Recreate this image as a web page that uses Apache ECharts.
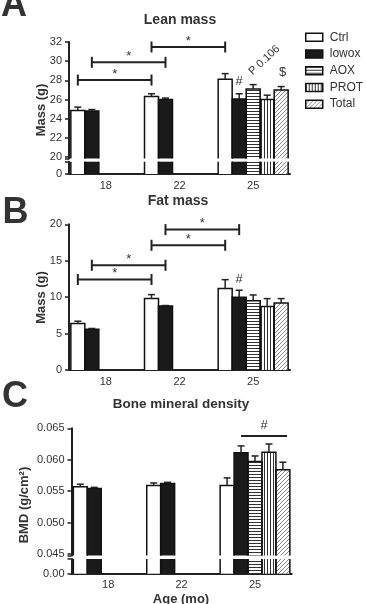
<!DOCTYPE html>
<html>
<head>
<meta charset="utf-8">
<script src="https://cdn.jsdelivr.net/npm/echarts@6/dist/echarts.min.js"></script>
<style>
  html, body { margin: 0; padding: 0; background: #fff; }
  #chart { width: 366px; height: 604px; }
</style>
</head>
<body>
<div id="chart"></div>
<script>
const ages = ['18', '22', '25'];
const groups = ['Ctrl', 'lowox', 'AOX', 'PROT', 'Total'];

// rows follow groups, columns follow ages (mean and SEM)
const leanMean = [
  [24.85, 26.3, 28.1],
  [24.8, 26.0, 26.05],
  [null, null, 27.1],
  [null, null, 26.0],
  [null, null, 27.0]
];
const leanErr = [
  [0.35, 0.3, 0.6],
  [0.15, 0.15, 0.55],
  [null, null, 0.45],
  [null, null, 0.45],
  [null, null, 0.35]
];
const fatMean = [
  [6.4, 9.8, 11.2],
  [5.6, 8.8, 10.0],
  [null, null, 9.5],
  [null, null, 8.7],
  [null, null, 9.2]
];
const fatErr = [
  [0.3, 0.55, 1.2],
  [0.1, 0.05, 0.95],
  [null, null, 0.8],
  [null, null, 1.1],
  [null, null, 0.6]
];
const bmdMean = [
  [0.0557, 0.0559, 0.0559],
  [0.0554, 0.0562, 0.0611],
  [null, null, 0.0597],
  [null, null, 0.0612],
  [null, null, 0.0584]
];
const bmdErr = [
  [0.0004, 0.0004, 0.0012],
  [0.0002, 0.0002, 0.0011],
  [null, null, 0.0009],
  [null, null, 0.0013],
  [null, null, 0.0012]
];

// tick labels
const leanTicks = [20, 22, 24, 26, 28, 30, 32];
const fatTicks = [0, 5, 10, 15, 20];
const bmdTicks = [0.045, 0.05, 0.055, 0.06, 0.065];

// significance brackets: [age1, group1, age2, group2, height]
const leanBrackets = [[0, 0, 1, 0, 28.03], [0, 1, 1, 1, 29.88], [1, 0, 2, 0, 31.48]];
const fatBrackets = [[0, 0, 1, 0, 12.42], [0, 1, 1, 1, 14.38], [1, 0, 2, 0, 17.12], [1, 1, 2, 1, 19.27]];
const bmdBrackets = [[2, 1, 2, 4.3, 0.06378]];

// text notes: [age, group, height]
const leanNotes = [[2, 1, 27.86], [2, 2.8, 30.1], [2, 4.1, 28.8]];
const leanNoteText = ['#', 'P 0.106', '$'];
const leanNoteAngle = [0, 43, 0];
const fatNotes = [[2, 1, 12.4]];
const fatNoteText = ['#'];

const font = 'Liberation Sans';
const ink = '#222';
const txt = '#333';
const slot = 0.19; // bar width as share of a category band

function pattern(kind) {
  const c = document.createElement('canvas');
  c.width = kind === 'd' ? 4 : 3;
  c.height = kind === 'd' ? 4 : 3;
  const g = c.getContext('2d');
  g.fillStyle = '#fff';
  g.fillRect(0, 0, c.width, c.height);
  if (kind === 'h') { g.fillStyle = '#333'; g.fillRect(0, 0, 3, 1); }
  if (kind === 'v') { g.fillStyle = '#333'; g.fillRect(0, 0, 1, 3); }
  if (kind === 'd') {
    g.fillStyle = '#8a8a8a';
    for (let i = 0; i < 4; i++) g.fillRect(i, 3 - i, 1, 1);
  }
  return { image: c, repeat: 'repeat' };
}
const fills = ['#fff', '#1a1a1a', pattern('h'), pattern('v'), pattern('d')];

const grids = [
  { left: 69, top: 42, width: 221, height: 116.5 },
  { left: 69, top: 161.7, width: 221, height: 12.3 },
  { left: 69, top: 224.3, width: 221, height: 145.7 },
  { left: 71.5, top: 428.3, width: 220.2, height: 127.2 },
  { left: 71.5, top: 559, width: 220.2, height: 14.7 }
].map(g => Object.assign({ outerBoundsMode: 'none', containLabel: false }, g));

const xAxis = grids.map((g, i) => ({
  type: 'category', gridIndex: i, data: ages,
  show: i === 1 || i === 2 || i === 4,
  axisLine: { lineStyle: { color: ink, width: 2 } },
  axisTick: { alignWithLabel: true, length: 3, lineStyle: { color: ink, width: 1.5 } },
  axisLabel: { color: txt, fontSize: 11, fontFamily: font, margin: 6 }
}));

function yAxis(gi, min, max, ticks, labels, fmt) {
  return {
    type: 'value', gridIndex: gi, min: min, max: max,
    axisLine: { show: true, onZero: false, lineStyle: { color: ink, width: 2 } },
    axisTick: { show: true, length: 4, customValues: ticks, lineStyle: { color: ink, width: 1.5 } },
    axisLabel: { customValues: labels, color: txt, fontSize: 11, fontFamily: font, margin: 7, formatter: fmt },
    splitLine: { show: false }
  };
}
const yAxes = [
  yAxis(0, 19.84, 32, [19.84].concat(leanTicks), leanTicks),
  yAxis(1, 0, 1.28, [0, 1.28], [0]),
  yAxis(2, 0, 20, fatTicks, fatTicks),
  yAxis(3, 0.04475, 0.065, [0.04475].concat(bmdTicks), bmdTicks, v => v.toFixed(3)),
  yAxis(4, 0, 0.00234, [0, 0.00234], [0], () => '0.00')
];

const series = [];

// fills only; outlines are drawn separately so the axis break stays open
function addBars(means, gi, lo, hi) {
  means.forEach((row, s) => {
    series.push({
      type: 'bar', name: groups[s], xAxisIndex: gi, yAxisIndex: gi,
      data: row, barGap: '0%', barCategoryGap: '5%', clip: true,
      itemStyle: { color: fills[s], borderWidth: 0 }
    });
  });
  const data = [];
  means.forEach((row, s) => row.forEach((m, c) => {
    if (m != null) data.push([c, s, m]);
  }));
  series.push({
    type: 'custom', xAxisIndex: gi, yAxisIndex: gi, z: 3, silent: true, data: data,
    renderItem: (params, api) => {
      const band = api.size([1, 0])[0];
      const m = api.value(2);
      const base = api.coord([api.value(0), lo]);
      const top = api.coord([api.value(0), Math.min(m, hi)])[1];
      const x = base[0] + (api.value(1) - 2) * band * slot;
      const w = band * slot / 2;
      const st = { stroke: '#111', lineWidth: 1.5, fill: null };
      if (m <= hi) {
        return { type: 'polyline', shape: { points: [[x - w, base[1]], [x - w, top], [x + w, top], [x + w, base[1]]] }, style: st };
      }
      return { type: 'group', children: [
        { type: 'line', shape: { x1: x - w, y1: base[1], x2: x - w, y2: top }, style: st },
        { type: 'line', shape: { x1: x + w, y1: base[1], x2: x + w, y2: top }, style: st }
      ] };
    }
  });
}

function addErrors(means, errs, gi) {
  const data = [];
  means.forEach((row, s) => row.forEach((m, c) => {
    if (m != null) data.push([c, s, m, errs[s][c]]);
  }));
  series.push({
    type: 'custom', xAxisIndex: gi, yAxisIndex: gi, z: 4, silent: true, data: data,
    renderItem: (params, api) => {
      const band = api.size([1, 0])[0];
      const base = api.coord([api.value(0), api.value(2)]);
      const tip = api.coord([api.value(0), api.value(2) + api.value(3)]);
      const x = base[0] + (api.value(1) - 2) * band * slot;
      const half = band * slot * 0.25;
      const st = { stroke: ink, lineWidth: 1.5 };
      return { type: 'group', children: [
        { type: 'line', shape: { x1: x, y1: base[1], x2: x, y2: tip[1] }, style: st },
        { type: 'line', shape: { x1: x - half, y1: tip[1], x2: x + half, y2: tip[1] }, style: st }
      ] };
    }
  });
}

function textStyle(text, size, bold) {
  return {
    text: text, fill: txt, font: (bold ? 'bold ' : '') + size + 'px "' + font + '"',
    align: 'center', verticalAlign: 'middle', textAlign: 'center', textVerticalAlign: 'middle'
  };
}

function addBrackets(list, gi, mark, ends, lift) {
  series.push({
    type: 'custom', xAxisIndex: gi, yAxisIndex: gi, z: 5, silent: true, data: list,
    renderItem: (params, api) => {
      const band = api.size([1, 0])[0];
      const a = api.coord([api.value(0), api.value(4)]);
      const b = api.coord([api.value(2), api.value(4)]);
      const x1 = a[0] + (api.value(1) - 2) * band * slot;
      const x2 = b[0] + (api.value(3) - 2) * band * slot;
      const y = a[1];
      const st = { stroke: ink, lineWidth: 2 };
      const kids = [{ type: 'line', shape: { x1: x1, y1: y, x2: x2, y2: y }, style: st }];
      if (ends) {
        kids.push({ type: 'line', shape: { x1: x1, y1: y - 5.5, x2: x1, y2: y + 5.5 }, style: st });
        kids.push({ type: 'line', shape: { x1: x2, y1: y - 5.5, x2: x2, y2: y + 5.5 }, style: st });
      }
      kids.push({ type: 'text', x: (x1 + x2) / 2, y: y - lift, style: textStyle(mark, 13) });
      return { type: 'group', children: kids };
    }
  });
}

function addNotes(list, texts, angles, gi) {
  series.push({
    type: 'custom', xAxisIndex: gi, yAxisIndex: gi, z: 5, silent: true, data: list,
    renderItem: (params, api) => {
      const band = api.size([1, 0])[0];
      const p = api.coord([api.value(0), api.value(2)]);
      const i = params.dataIndex;
      const t = texts[i];
      return {
        type: 'text', x: p[0] + (api.value(1) - 2) * band * slot, y: p[1],
        rotation: (angles ? angles[i] : 0) * Math.PI / 180,
        style: textStyle(t, t.length > 1 ? 11 : 13)
      };
    }
  });
}

addBars(leanMean, 0, 19.84, 32);
addBars(leanMean, 1, 0, 1.28);
addErrors(leanMean, leanErr, 0);
addBrackets(leanBrackets, 0, '*', true, 6);
addNotes(leanNotes, leanNoteText, leanNoteAngle, 0);

addBars(fatMean, 2, 0, 20);
addErrors(fatMean, fatErr, 2);
addBrackets(fatBrackets, 2, '*', true, 6);
addNotes(fatNotes, fatNoteText, null, 2);

addBars(bmdMean, 3, 0.04475, 0.065);
addBars(bmdMean, 4, 0, 0.00234);
addErrors(bmdMean, bmdErr, 3);
addBrackets(bmdBrackets, 3, '#', false, 11);

function label(text, x, y, size, bold, rot) {
  return { type: 'text', x: x, y: y, rotation: rot || 0, silent: true, style: textStyle(text, size, bold) };
}

const chart = echarts.init(document.getElementById('chart'));
chart.setOption({
  animation: false,
  grid: grids,
  xAxis: xAxis,
  yAxis: yAxes,
  series: series,
  legend: {
    data: groups, orient: 'vertical', left: 305, top: 29, padding: 0,
    icon: 'rect', itemWidth: 17, itemHeight: 8, itemGap: 0, selectedMode: false,
    itemStyle: { borderColor: '#111', borderWidth: 1.5 },
    textStyle: { fontFamily: font, fontSize: 12, color: txt, lineHeight: 16.7, padding: [0, 0, 0, 2] }
  },
  graphic: [
    label('A', 14, 6, 36, true),
    label('B', 15.5, 213, 36, true),
    label('C', 15, 397, 36, true),
    label('Lean mass', 180, 20, 14, true),
    label('Fat mass', 178, 201.5, 14, true),
    label('Bone mineral density', 181, 404, 13.5, true),
    label('Mass (g)', 41.5, 110, 13, true, Math.PI / 2),
    label('Mass (g)', 41.5, 297.5, 13, true, Math.PI / 2),
    label('BMD (g/cm\u00b2)', 24.5, 505, 13, true, Math.PI / 2),
    label('Age (mo)', 181, 599, 13, true)
  ]
});
</script>
</body>
</html>
